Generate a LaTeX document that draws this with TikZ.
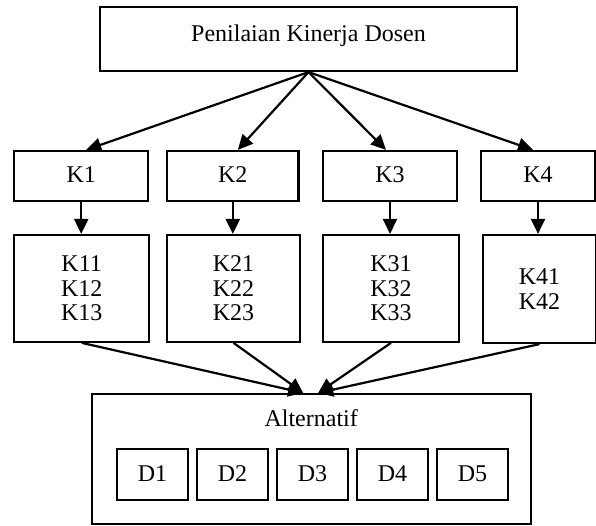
\documentclass[tikz,border=0pt]{standalone}
\usepackage{fontspec}
\setmainfont{Liberation Serif}
\usetikzlibrary{arrows.meta,calc}
\begin{document}
\begin{tikzpicture}[x=1pt,y=-1pt,
  box/.style={draw,line width=2.2pt,inner sep=0pt,align=center,font=\fontsize{24}{24.7}\selectfont},
  arr/.style={line width=2.2pt,-{Triangle[length=15pt,width=14pt]}}]
\useasboundingbox (0,0) rectangle (596,525);
% top
\node[box,anchor=base,minimum width=417pt,text height=34.7pt,text depth=29.3pt] (top) at (308.5,41.7) {Penilaian Kinerja Dosen};
% criteria
\node[box,anchor=base,minimum width=133.7pt,text height=31pt,text depth=19pt] (k1) at (81.2,182) {K1};
\node[box,anchor=base,minimum width=131.5pt,text height=31pt,text depth=19pt] (k2) at (232.8,182) {K2};
\node[box,anchor=base,minimum width=134pt,text height=31pt,text depth=19pt] (k3) at (390,182) {K3};
\node[box,anchor=base,minimum width=114pt,text height=31pt,text depth=19pt] (k4) at (538,182) {K4};
% sub criteria
\node[box,minimum width=134.7pt,minimum height=106.7pt] (k11) at (81.7,288.4) {K11\\K12\\K13};
\node[box,minimum width=133pt,minimum height=106.7pt] (k21) at (233.5,288.4) {K21\\K22\\K23};
\node[box,minimum width=136pt,minimum height=106.7pt] (k31) at (391,288.4) {K31\\K32\\K33};
\node[box,minimum width=113pt,minimum height=108pt] (k41) at (539.5,289) {K41\\K42};
% alternatives
\node[box,anchor=base,minimum width=439pt,text height=32.7pt,text depth=97.3pt] (alt) at (311.2,426.7) {Alternatif};
\foreach \i/\x in {1/152.5,2/232.5,3/312.5,4/392.5,5/472.5}{
  \node[box,anchor=base,minimum width=71pt,text height=32pt,text depth=19pt] (d\i) at (\x,481) {D\i};
}
% arrows
\draw[arr] (top.south) -- ([xshift=5pt]k1.north);
\draw[arr] (top.south) -- ([xshift=5pt]k2.north);
\draw[arr] (top.south) -- ([xshift=-4pt]k3.north);
\draw[arr] (top.south) -- ([xshift=-5pt]k4.north);
\draw[arr] (k1.south) -- (k1.south |- k11.north);
\draw[arr] (k2.south) -- (k2.south |- k21.north);
\draw[arr] (k3.south) -- (k3.south |- k31.north);
\draw[arr] (k4.south) -- (k4.south |- k41.north);
\draw[arr] (k11.south) -- ([xshift=-8pt]alt.north);
\draw[arr] (k21.south) -- ([xshift=-8pt]alt.north);
\draw[arr] (k31.south) -- ([xshift=7pt]alt.north);
\draw[arr] (k41.south) -- ([xshift=7pt]alt.north);
\end{tikzpicture}
\end{document}
